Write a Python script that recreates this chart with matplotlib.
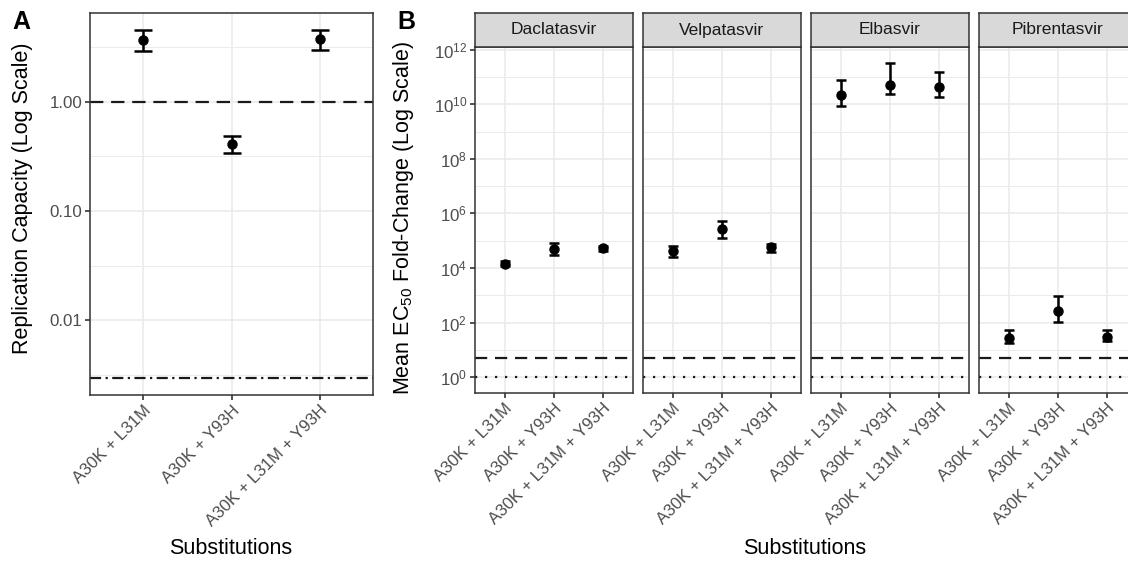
import matplotlib
matplotlib.use("Agg")
import matplotlib.pyplot as plt
import numpy as np

plt.rcParams['font.family'] = ['Liberation Sans', 'DejaVu Sans']
plt.rcParams['mathtext.fontset'] = 'custom'
plt.rcParams['mathtext.rm'] = 'Liberation Sans'
plt.rcParams['mathtext.it'] = 'Liberation Sans:italic'
plt.rcParams['mathtext.bf'] = 'Liberation Sans:bold'

# ---------------- data ----------------
substitutions = ["A30K + L31M", "A30K + Y93H", "A30K + L31M + Y93H"]

# Panel A: replication capacity
rc_mean = [3.7, 0.41, 3.75]
rc_low = [2.9, 0.34, 2.95]
rc_high = [4.5, 0.49, 4.5]
rc_ref_line = 1.0
rc_limit_line = 0.003

# Panel B: EC50 fold change per drug
drugs = ["Daclatasvir", "Velpatasvir", "Elbasvir", "Pibrentasvir"]
fc_mean = {
    "Daclatasvir": [1.45e4, 5.1e4, 5.3e4],
    "Velpatasvir": [4.1e4, 2.6e5, 5.7e4],
    "Elbasvir": [2.1e10, 4.9e10, 4.3e10],
    "Pibrentasvir": [28, 257, 31],
}
fc_low = {
    "Daclatasvir": [1.2e4, 2.9e4, 4.2e4],
    "Velpatasvir": [2.5e4, 1.3e5, 4.0e4],
    "Elbasvir": [8.3e9, 2.3e10, 1.9e10],
    "Pibrentasvir": [18, 105, 21],
}
fc_high = {
    "Daclatasvir": [1.75e4, 8.5e4, 6.6e4],
    "Velpatasvir": [6.6e4, 5.1e5, 7.8e4],
    "Elbasvir": [7.9e10, 3.3e11, 1.5e11],
    "Pibrentasvir": [52, 960, 54],
}
fc_dash_line = 5.0
fc_dot_line = 1.0

# ---------------- style ----------------
W, H = 1128, 565
fig = plt.figure(figsize=(W / 100, H / 100), dpi=100)
fig.patch.set_facecolor("white")

GRID = "#EBEBEB"
BORDER = "#333333"
TICKTXT = "#4D4D4D"


def px_axes(l, t, r, b):
    return fig.add_axes([l / W, 1 - b / H, (r - l) / W, (b - t) / H])


def style_axes(ax):
    for s in ax.spines.values():
        s.set_color(BORDER)
        s.set_linewidth(1.1)
        s.set_zorder(5)
    ax.tick_params(axis="both", which="major", length=3.5, width=1.2, color=BORDER,
                   labelsize=12.2, labelcolor=TICKTXT, pad=2)
    ax.tick_params(axis="both", which="minor", length=0)
    ax.set_facecolor("white")


def log_limits(vals):
    lo, hi = np.log10(min(vals)), np.log10(max(vals))
    e = 0.05 * (hi - lo)
    return 10 ** (lo - e), 10 ** (hi + e)


def grid_lines(ax, majors, minors, ncat):
    for y in majors:
        ax.axhline(y, color=GRID, lw=1.2, zorder=0)
    for y in minors:
        ax.axhline(y, color=GRID, lw=0.7, zorder=0)
    for i in range(ncat):
        ax.axvline(i, color=GRID, lw=1.2, zorder=0)


xpos = np.arange(len(substitutions))

# ---------------- Panel A ----------------
axA = px_axes(90, 13, 373, 395)
style_axes(axA)
axA.set_yscale("log")
axA.set_ylim(*log_limits(rc_low + rc_high + [rc_ref_line, rc_limit_line]))
axA.set_xlim(-0.6, len(substitutions) - 0.4)
grid_lines(axA, [0.01, 0.1, 1.0], [10 ** -2.5, 10 ** -1.5, 10 ** -0.5, 10 ** 0.5], len(substitutions))
axA.axhline(rc_ref_line, color="#1a1a1a", lw=1.6, ls=(0, (6, 3.5)), zorder=2)
axA.axhline(rc_limit_line, color="#1a1a1a", lw=1.6, ls=(0, (5, 2, 1, 2)), zorder=2)
yerrA = [np.array(rc_mean) - np.array(rc_low), np.array(rc_high) - np.array(rc_mean)]
axA.errorbar(xpos, rc_mean, yerr=yerrA, fmt="o", color="black", ms=6.5,
             capsize=6.5, elinewidth=1.8, capthick=1.8, zorder=4)
axA.set_yticks([0.01, 0.1, 1.0])
axA.set_yticklabels(["0.01", "0.10", "1.00"])
axA.yaxis.set_minor_locator(matplotlib.ticker.NullLocator())
axA.set_xticks(xpos)
axA.set_xticklabels(substitutions, rotation=45, ha="right", va="top", rotation_mode="anchor")

fig.text(23 / W, 1 - 198 / H, "Replication Capacity (Log Scale)", rotation=90,
         ha="center", va="center", fontsize=15.5, color="black")
fig.text(231 / W, 1 - 549 / H, "Substitutions", ha="center", va="center", fontsize=15.5)
fig.text(12 / W, 1 - 22 / H, "A", ha="left", va="center", fontsize=18, fontweight="bold")

# ---------------- Panel B ----------------
facet_left = [475, 643, 811, 979]
facet_w = 157.5
all_vals = [fc_dot_line, fc_dash_line]
for d in drugs:
    all_vals += fc_low[d] + fc_high[d]
ylimB = log_limits(all_vals)
majB = [10.0 ** k for k in range(0, 13, 2)]
minB = [10.0 ** k for k in range(1, 13, 2)]

for j, d in enumerate(drugs):
    l = facet_left[j]
    ax = px_axes(l, 47, l + facet_w, 393)
    style_axes(ax)
    ax.set_yscale("log")
    ax.set_ylim(*ylimB)
    ax.set_xlim(-0.6, len(substitutions) - 0.4)
    grid_lines(ax, majB, minB, len(substitutions))
    ax.axhline(fc_dash_line, color="#1a1a1a", lw=1.6, ls=(0, (5.5, 3.5)), zorder=2)
    ax.axhline(fc_dot_line, color="#1a1a1a", lw=1.6, ls=(0, (1, 3.5)), zorder=2)
    m = np.array(fc_mean[d])
    yerr = [m - np.array(fc_low[d]), np.array(fc_high[d]) - m]
    ax.errorbar(xpos, m, yerr=yerr, fmt="o", color="black", ms=6.5,
                capsize=3.8, elinewidth=1.8, capthick=1.8, zorder=4)
    ax.set_yticks(majB)
    ax.yaxis.set_minor_locator(matplotlib.ticker.NullLocator())
    if j == 0:
        ax.set_yticklabels([r"$10^{%d}$" % k for k in range(0, 13, 2)])
    else:
        ax.tick_params(axis="y", which="major", length=0, labelleft=False)
    ax.set_xticks(xpos)
    ax.set_xticklabels(substitutions, rotation=45, ha="right", va="top", rotation_mode="anchor")
    # strip
    sx = px_axes(l, 13, l + facet_w, 47)
    sx.set_facecolor("#D9D9D9")
    for s in sx.spines.values():
        s.set_color(BORDER)
        s.set_linewidth(1.1)
    sx.set_xticks([])
    sx.set_yticks([])
    sx.text(0.5, 0.5, d, transform=sx.transAxes, ha="center", va="center",
            fontsize=12.5, color="#1A1A1A")

fig.text(404 / W, 1 - 218 / H, r"Mean EC$_{50}$ Fold-Change (Log Scale)", rotation=90,
         ha="center", va="center", fontsize=15.5, color="black")
fig.text(805 / W, 1 - 549 / H, "Substitutions", ha="center", va="center", fontsize=15.5)
fig.text(397 / W, 1 - 22 / H, "B", ha="left", va="center", fontsize=18, fontweight="bold")

fig.savefig("out.png", dpi=100, facecolor="white")
